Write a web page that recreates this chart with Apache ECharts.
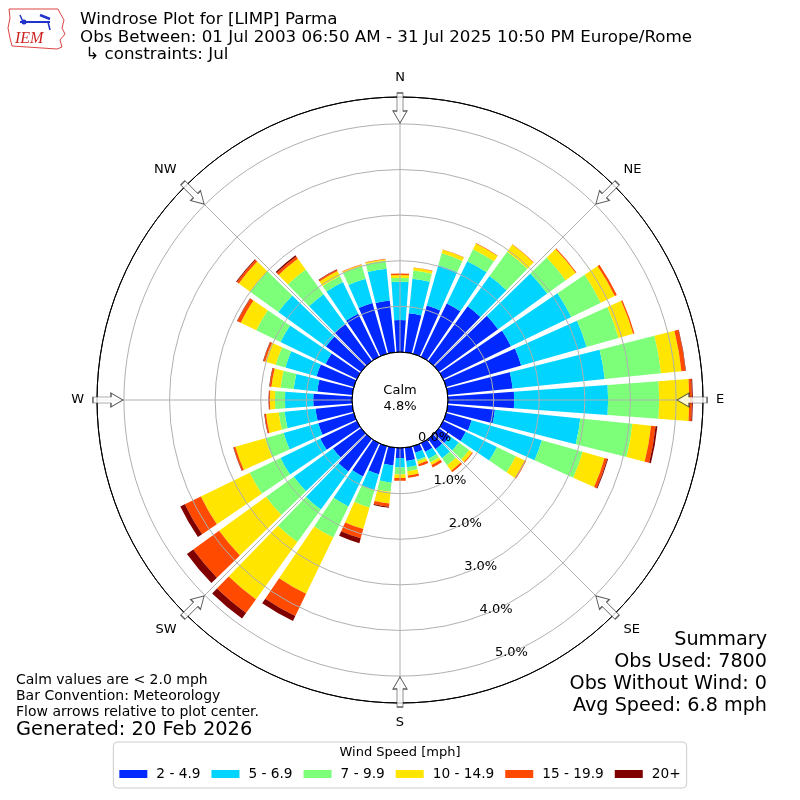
<!DOCTYPE html>
<html>
<head>
<meta charset="utf-8">
<script src="https://cdn.jsdelivr.net/npm/echarts@6/dist/echarts.min.js"></script>
<style>
html,body{margin:0;padding:0;background:#fff;}
#chart{width:800px;height:800px;}
</style>
</head>
<body>
<div id="chart"></div>
<script>
// Directions (degrees, meteorological) and per-speed-bin frequencies (%)
const directions = ['0','10','20','30','40','50','60','70','80','90','100','110','120','130','140','150','160','170',
  '180','190','200','210','220','230','240','250','260','270','280','290','300','310','320','330','340','350'];
const speedBins = ['2 - 4.9','5 - 6.9','7 - 9.9','10 - 14.9','15 - 19.9','20+'];
const binColors = ['#0028ff','#00d4ff','#7dff7a','#ffe500','#ff4a00','#800000'];

const bin1 = [0.70,0.86,1.10,1.30,1.48,1.60,1.65,1.71,1.43,1.45,1.04,0.58,0.55,0.30,0.28,0.21,0.15,0.29,0.22,0.39,0.64,0.81,0.88,0.76,0.89,0.81,0.81,0.85,0.77,0.85,0.76,0.95,1.00,1.05,1.16,1.14];
const bin2 = [0.84,0.76,0.92,1.03,0.82,1.33,1.47,1.49,2.03,2.06,1.88,1.60,0.76,0.24,0.24,0.17,0.16,0.14,0.21,0.38,0.36,0.73,1.03,1.06,0.97,0.79,0.68,0.62,0.52,0.71,1.10,1.29,0.81,0.77,0.55,0.70];
const bin3 = [0.09,0.18,0.27,0.29,0.66,0.50,0.72,0.73,1.24,1.12,1.15,0.93,0.46,0.28,0.19,0.09,0.04,0.09,0.15,0.20,0.40,0.76,0.88,0.75,0.75,0.42,0.13,0.22,0.29,0.22,0.59,0.76,0.67,0.15,0.29,0.18];
const bin4 = [0.06,0.06,0.08,0.14,0.19,0.27,0.34,0.33,0.45,0.66,0.41,0.50,0.22,0.08,0.15,0.06,0.06,0.09,0.08,0.26,0.49,1.37,1.55,1.27,1.19,0.68,0.28,0.11,0.20,0.24,0.38,0.31,0.29,0.12,0.03,0.03];
const bin5 = [0.03,0.01,0.01,0.01,0.01,0.02,0.05,0.03,0.09,0.06,0.10,0.06,0.03,0.02,0.04,0.06,0.05,0.05,0.06,0.07,0.21,0.54,0.37,0.70,0.39,0.04,0.03,0.02,0.04,0.04,0.08,0.05,0.06,0.03,0.01,0.01];
const bin6 = [0,0,0,0,0,0,0,0,0.01,0.02,0.04,0.02,0,0,0,0,0,0,0,0.02,0.11,0.12,0.15,0.17,0.11,0.01,0.01,0.01,0.01,0.01,0.01,0.02,0.03,0.01,0,0];
const binData = [bin1,bin2,bin3,bin4,bin5,bin6];

const compassLabels = {0:'N',45:'NE',90:'E',135:'SE',180:'S',225:'SW',270:'W',315:'NW'};
const arrowDirs = [0,45,90,135,180,225,270,315];
const radialTicks = [0,1,2,3,4,5];
const RMAX = 5.59;
const ARROW_R = 5.35;

const FONT = 'DejaVu Sans';
const chart = echarts.init(document.getElementById('chart'), null, {renderer:'canvas'});

const polarBox = {center:['50%','50%'], radius:[48,303]};
const arrowPath = 'path://M7,0 L14,12 L10,12 L10,30 L4,30 L4,12 L0,12 Z';

const series = binData.map((d,i)=>({
  name: speedBins[i],
  type:'bar',
  coordinateSystem:'polar',
  polarIndex:0,
  stack:'wind',
  barCategoryGap:'17%',
  data:d,
  itemStyle:{color:binColors[i]},
  emphasis:{disabled:true},
  z:2
}));

series.push({
  type:'scatter',
  coordinateSystem:'polar',
  polarIndex:1,
  symbol:arrowPath,
  symbolSize:[14,30],
  silent:true,
  z:20,
  itemStyle:{color:'#ffffff', borderColor:'#333333', borderWidth:1},
  data: arrowDirs.map(a=>({value:[ARROW_R, a], symbolRotate: -(a+180)}))
});

const option = {
  animation:false,
  backgroundColor:'#ffffff',
  textStyle:{fontFamily:FONT},
  polar:[
    Object.assign({}, polarBox),
    Object.assign({}, polarBox),
    Object.assign({}, polarBox)
  ],
  angleAxis:[
    {polarIndex:0, type:'category', data:directions, startAngle:95, clockwise:true, show:false},
    {polarIndex:1, type:'value', min:0, max:360, interval:45, startAngle:90, clockwise:true, z:10,
      axisLine:{show:true, lineStyle:{color:'#000', width:1}},
      axisTick:{show:false},
      axisLabel:{show:true, margin:13, fontSize:13, color:'#000', fontFamily:FONT,
        formatter:(v)=> (v>=360 ? '' : (compassLabels[v]||''))},
      splitLine:{show:true, lineStyle:{color:'#b0b0b0', width:1}}
    },
    {polarIndex:2, type:'value', min:0, max:360, startAngle:-70.3, clockwise:true, show:false}
  ],
  radiusAxis:[
    {polarIndex:0, type:'value', min:0, max:RMAX, show:false},
    {polarIndex:1, type:'value', min:0, max:RMAX, interval:1, z:10,
      axisLine:{show:false}, axisTick:{show:false}, axisLabel:{show:false},
      splitLine:{show:true, lineStyle:{color:['#000','#b0b0b0','#b0b0b0','#b0b0b0','#b0b0b0','#b0b0b0','#000'], width:1}}
    },
    {polarIndex:2, type:'value', min:0, max:RMAX, interval:1, z:11,
      axisLine:{show:false}, axisTick:{show:false}, splitLine:{show:false},
      axisLabel:{show:true, showMaxLabel:false, margin:2, fontSize:13, color:'#000', fontFamily:FONT,
        align:'left', verticalAlign:'bottom',
        formatter:(v)=> radialTicks.indexOf(v)>=0 ? v.toFixed(1)+'%' : ''}
    }
  ],
  legend:{
    data:speedBins,
    left:'center', top:742,
    icon:'rect', itemWidth:28, itemHeight:8, itemGap:11,
    padding:[25,6,7,6],
    borderColor:'#cccccc', borderWidth:1, borderRadius:4,
    textStyle:{fontSize:13.7, color:'#000', fontFamily:FONT, padding:[0,0,0,4]},
    selectedMode:false
  },
  series:series,
  graphic:[
    // Logo (approximation)
    {type:'polyline', shape:{points:[[9,9],[58,9],[60,13],[64,20],[62,28],[65,34],[60,40],[62,47],[57,49],[12,46],[10,38],[8,28],[10,18],[9,9]]},
      style:{stroke:'#d44',fill:'none',lineWidth:1}, silent:true},
    {type:'line', shape:{x1:20,y1:22,x2:50,y2:22}, style:{stroke:'#2233cc',lineWidth:2}},
    {type:'line', shape:{x1:20,y1:15,x2:24,y2:24}, style:{stroke:'#2233cc',lineWidth:1.5}},
    {type:'line', shape:{x1:40,y1:15,x2:50,y2:19}, style:{stroke:'#2233cc',lineWidth:2.5}},
    {type:'line', shape:{x1:48,y1:22,x2:50,y2:30}, style:{stroke:'#2233cc',lineWidth:1.5}},
    {type:'circle', shape:{cx:24,cy:22,r:2.5}, style:{fill:'#2233cc'}},
    {type:'text', x:15, y:39, style:{text:'IEM', font:'italic 16px "Liberation Serif"', fill:'#cc2222', textVerticalAlign:'middle'}},
    // Titles
    {type:'text', x:80, y:20, style:{text:'Windrose Plot for [LIMP] Parma', font:'16.7px "DejaVu Sans"', fill:'#000', textVerticalAlign:'middle'}},
    {type:'text', x:80, y:38, style:{text:'Obs Between: 01 Jul 2003 06:50 AM - 31 Jul 2025 10:50 PM Europe/Rome', font:'16.7px "DejaVu Sans"', fill:'#000', textVerticalAlign:'middle'}},
    {type:'text', x:80, y:55, style:{text:' \u21b3 constraints: Jul', font:'16.7px "DejaVu Sans"', fill:'#000', textVerticalAlign:'middle'}},
    // Calm
    {type:'text', x:400, y:391, style:{text:'Calm', font:'13px "DejaVu Sans"', fill:'#000', textAlign:'center', textVerticalAlign:'middle'}},
    {type:'text', x:400, y:407, style:{text:'4.8%', font:'13px "DejaVu Sans"', fill:'#000', textAlign:'center', textVerticalAlign:'middle'}},
    // Notes bottom-left
    {type:'text', x:16, y:680, style:{text:'Calm values are < 2.0 mph', font:'14px "DejaVu Sans"', fill:'#000', textVerticalAlign:'middle'}},
    {type:'text', x:16, y:696, style:{text:'Bar Convention: Meteorology', font:'14px "DejaVu Sans"', fill:'#000', textVerticalAlign:'middle'}},
    {type:'text', x:16, y:712, style:{text:'Flow arrows relative to plot center.', font:'14px "DejaVu Sans"', fill:'#000', textVerticalAlign:'middle'}},
    {type:'text', x:16, y:730, style:{text:'Generated: 20 Feb 2026', font:'19.4px "DejaVu Sans"', fill:'#000', textVerticalAlign:'middle'}},
    // Summary bottom-right
    {type:'text', x:767, y:640, style:{text:'Summary', font:'19.2px "DejaVu Sans"', fill:'#000', textAlign:'right', textVerticalAlign:'middle'}},
    {type:'text', x:767, y:662, style:{text:'Obs Used: 7800', font:'19.2px "DejaVu Sans"', fill:'#000', textAlign:'right', textVerticalAlign:'middle'}},
    {type:'text', x:767, y:684, style:{text:'Obs Without Wind: 0', font:'19.2px "DejaVu Sans"', fill:'#000', textAlign:'right', textVerticalAlign:'middle'}},
    {type:'text', x:767, y:706, style:{text:'Avg Speed: 6.8 mph', font:'19.2px "DejaVu Sans"', fill:'#000', textAlign:'right', textVerticalAlign:'middle'}},
    // Legend title
    {type:'text', x:400, y:753, z:100, style:{text:'Wind Speed [mph]', font:'13px "DejaVu Sans"', fill:'#000', textAlign:'center', textVerticalAlign:'middle'}}
  ]
};
chart.setOption(option);
</script>
</body>
</html>
